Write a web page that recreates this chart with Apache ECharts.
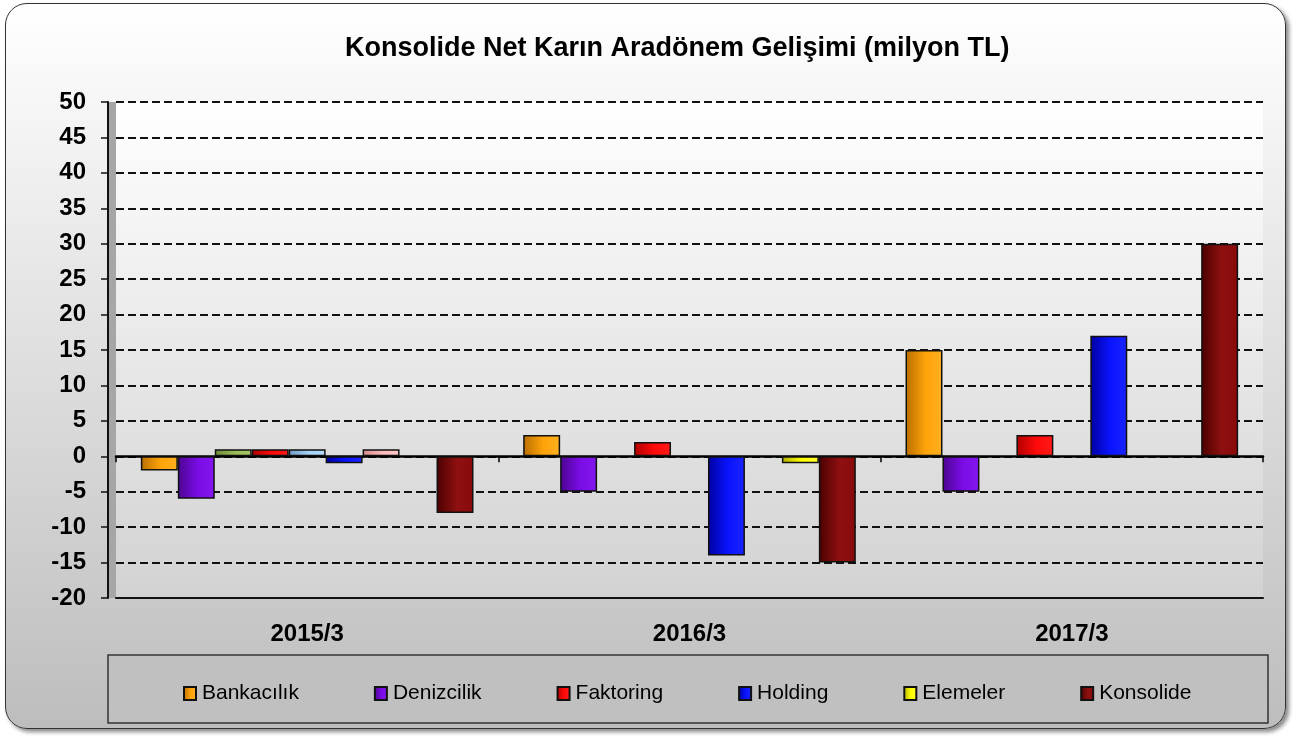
<!DOCTYPE html>
<html>
<head>
<meta charset="utf-8">
<script src="https://cdn.jsdelivr.net/npm/echarts@6/dist/echarts.min.js"></script>
<style>
  html, body { margin: 0; padding: 0; background: #fff; }
  #frame {
    position: absolute; left: 5px; top: 3px; width: 1279px; height: 724px;
    border: 1.5px solid #333; border-radius: 22px;
    background: linear-gradient(#ffffff, #bdbdbd);
    box-shadow: 3px 3px 4px #888;
  }
  #main { position: absolute; left: 0; top: 0; width: 1296px; height: 736px; }
</style>
</head>
<body>
<div id="frame"></div>
<div id="main"></div>
<script>
// donemler
const categories = ['2015/3', '2016/3', '2017/3'];

// seri degerleri (milyon TL)
const bankacilik = [-2, 3, 15];
const denizcilik = [-6, -5, -5];
const diger1 = [1, null, null];      // yesil, lejantta yok
const faktoring = [1, 2, 3];
const diger2 = [1, null, null];      // acik mavi, lejantta yok
const holding = [-1, -14, 17];
const diger3 = [1, null, null];      // pembe, lejantta yok
const elemeler = [null, -1, null];
const konsolide = [-8, -15, 30];

const yTicks = [-20, -15, -10, -5, 0, 5, 10, 15, 20, 25, 30, 35, 40, 45, 50];

const legendNames = ['Bankacılık', 'Denizcilik', 'Faktoring', 'Holding', 'Elemeler', 'Konsolide'];

function grad(dark, base, light) {
  return new echarts.graphic.LinearGradient(0, 0, 1, 0, [
    { offset: 0, color: dark },
    { offset: 0.55, color: base },
    { offset: 1, color: light }
  ]);
}

function bar(name, data, dark, base, light) {
  return {
    name: name,
    type: 'bar',
    data: data,
    barGap: '0%',
    barCategoryGap: '13%',
    itemStyle: {
      color: grad(dark, base, light),
      borderColor: '#111',
      borderWidth: 1.5
    }
  };
}

const chart = echarts.init(document.getElementById('main'));

var option = {
  backgroundColor: 'transparent',
  animation: false,
  title: {
    text: 'Konsolide Net Karın Aradönem Gelişimi (milyon TL)',
    left: 340,
    top: 30,
    textStyle: { fontFamily: 'Liberation Sans', fontWeight: 'bold', fontSize: 27, color: '#000' }
  },
  graphic: [
    // sol duvar
    { type: 'rect', shape: { x: 108, y: 102, width: 8, height: 496 }, style: { fill: '#a6a6a6' }, z: 0 },
    // lejant kutusu
    { type: 'rect', shape: { x: 108, y: 655, width: 1160, height: 68 },
      style: { fill: '#c0c0c0', stroke: '#333', lineWidth: 1.5 }, z: 0 }
  ],
  legend: {
    data: legendNames,
    left: 178,
    top: 678,
    itemWidth: 12,
    itemHeight: 13,
    itemGap: 75,
    icon: 'rect',
    textStyle: { fontFamily: 'Liberation Sans', fontSize: 21, color: '#000', padding: [0, 0, 0, 1] }
  },
  grid: {
    left: 116, right: 33, top: 102, bottom: 138,
    show: true,
    borderWidth: 0,
    backgroundColor: new echarts.graphic.LinearGradient(0, 0, 0, 1, [
      { offset: 0, color: '#ffffff' },
      { offset: 1, color: '#d2d2d2' }
    ])
  },
  xAxis: [
    {
      type: 'category',
      data: categories,
      position: 'bottom',
      axisLine: { onZero: false, lineStyle: { color: '#111', width: 2 } },
      axisTick: { show: false },
      axisLabel: { margin: 24, fontFamily: 'Liberation Sans', fontWeight: 'bold', fontSize: 24, color: '#000' }
    },
    {
      type: 'category',
      data: categories,
      position: 'bottom',
      axisLine: { onZero: true, lineStyle: { color: '#000', width: 2.5 } },
      axisTick: { show: true, length: 6, lineStyle: { color: '#000', width: 1.5 } },
      axisLabel: { show: false }
    }
  ],
  yAxis: {
    type: 'value',
    min: -20,
    max: 50,
    interval: 5,
    offset: 8,
    axisLine: { show: true, lineStyle: { color: '#111', width: 2 } },
    axisTick: { show: true, length: 7, lineStyle: { color: '#111', width: 1.5 } },
    axisLabel: {
      margin: 22,
      fontFamily: 'Liberation Sans', fontWeight: 'bold', fontSize: 24, color: '#000',
      formatter: function (v) { return yTicks.indexOf(v) >= 0 ? String(v) : ''; }
    },
    splitLine: { show: true, lineStyle: { color: '#111', width: 2, type: [8, 4] } }
  },
  series: [
    bar('Bankacılık', bankacilik, '#b86e00', '#ffa30a', '#ffb020'),
    bar('Denizcilik', denizcilik, '#4c0590', '#7a0ce6', '#8416f0'),
    bar('Diğer1', diger1, '#6f8a3a', '#9bbb59', '#a6c466'),
    bar('Faktoring', faktoring, '#b00000', '#ff0a0a', '#ff1a1a'),
    bar('Diğer2', diger2, '#6e9ac4', '#a6d2f6', '#b4dafa'),
    bar('Holding', holding, '#0000a0', '#0a14ff', '#1a24ff'),
    bar('Diğer3', diger3, '#d48a8a', '#ffbcbc', '#ffc6c6'),
    bar('Elemeler', elemeler, '#b0b000', '#ffff00', '#ffff30'),
    bar('Konsolide', konsolide, '#4a0000', '#8e1010', '#8a0a0a')
  ]
};

chart.setOption(option);
</script>
</body>
</html>
